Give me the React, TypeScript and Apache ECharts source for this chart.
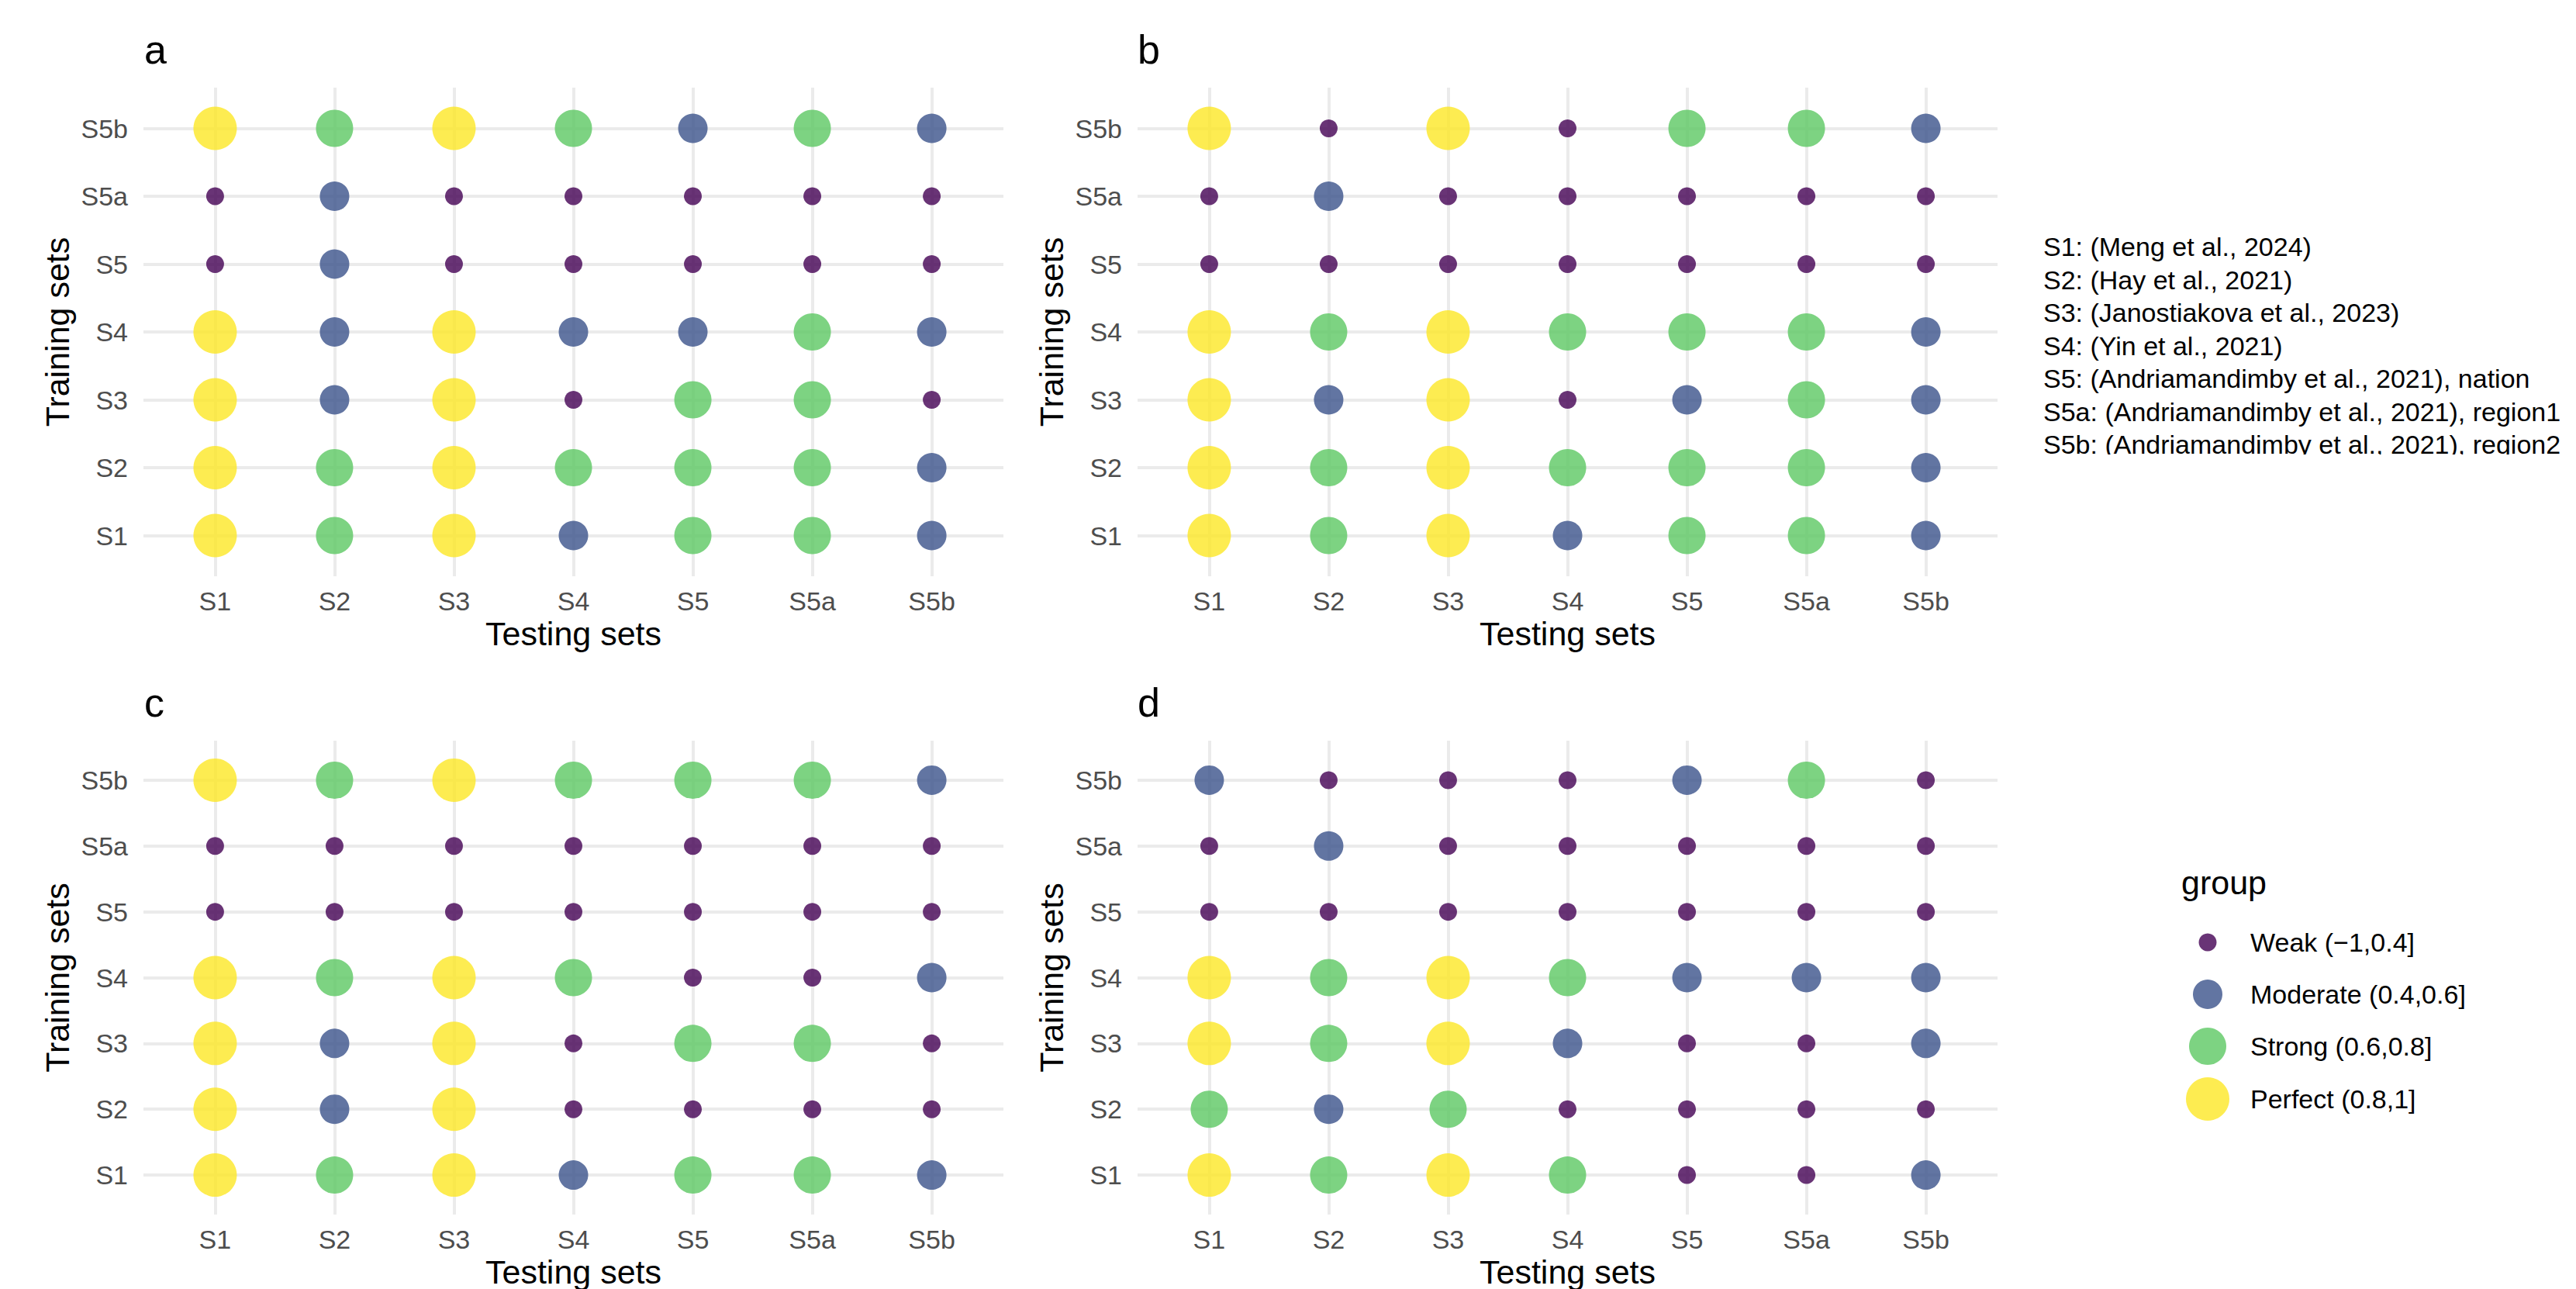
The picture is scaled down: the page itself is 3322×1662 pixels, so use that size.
import React, { useEffect, useRef } from "react";
import * as echarts from "echarts";

// Categories (bottom-to-top for training, left-to-right for testing)
const testingSets = ["S1", "S2", "S3", "S4", "S5", "S5a", "S5b"];
const trainingSets = ["S1", "S2", "S3", "S4", "S5", "S5a", "S5b"];

// Correlation groups
const groupLabels = ["Weak (\u22121,0.4]", "Moderate (0.4,0.6]", "Strong (0.6,0.8]", "Perfect (0.8,1]"];
const groupColors = ["#440154", "#3B528B", "#5DC863", "#FDE725"];
const groupSizes = [23, 38, 48, 56];

// Group index (0 Weak, 1 Moderate, 2 Strong, 3 Perfect); rows = training set S1..S5b, cols = testing set S1..S5b
const panelA = [
  [3, 2, 3, 1, 2, 2, 1],
  [3, 2, 3, 2, 2, 2, 1],
  [3, 1, 3, 0, 2, 2, 0],
  [3, 1, 3, 1, 1, 2, 1],
  [0, 1, 0, 0, 0, 0, 0],
  [0, 1, 0, 0, 0, 0, 0],
  [3, 2, 3, 2, 1, 2, 1],
];
const panelB = [
  [3, 2, 3, 1, 2, 2, 1],
  [3, 2, 3, 2, 2, 2, 1],
  [3, 1, 3, 0, 1, 2, 1],
  [3, 2, 3, 2, 2, 2, 1],
  [0, 0, 0, 0, 0, 0, 0],
  [0, 1, 0, 0, 0, 0, 0],
  [3, 0, 3, 0, 2, 2, 1],
];
const panelC = [
  [3, 2, 3, 1, 2, 2, 1],
  [3, 1, 3, 0, 0, 0, 0],
  [3, 1, 3, 0, 2, 2, 0],
  [3, 2, 3, 2, 0, 0, 1],
  [0, 0, 0, 0, 0, 0, 0],
  [0, 0, 0, 0, 0, 0, 0],
  [3, 2, 3, 2, 2, 2, 1],
];
const panelD = [
  [3, 2, 3, 2, 0, 0, 1],
  [2, 1, 2, 0, 0, 0, 0],
  [3, 2, 3, 1, 0, 0, 1],
  [3, 2, 3, 2, 1, 1, 1],
  [0, 0, 0, 0, 0, 0, 0],
  [0, 1, 0, 0, 0, 0, 0],
  [1, 0, 0, 0, 1, 2, 0],
];
const panels = [panelA, panelB, panelC, panelD];
const panelTags = ["a", "b", "c", "d"];

const studyNotes = [
  "S1: (Meng et al., 2024)",
  "S2: (Hay et al., 2021)",
  "S3: (Janostiakova et al., 2023)",
  "S4: (Yin et al., 2021)",
  "S5: (Andriamandimby et al., 2021), nation",
  "S5a: (Andriamandimby et al., 2021), region1",
  "S5b: (Andriamandimby et al., 2021), region2",
];

const FONT = "'Liberation Sans', Arial, Helvetica, sans-serif";

const gridBoxes = [
  { left: 185, top: 113, width: 1109, height: 630 },
  { left: 1467, top: 113, width: 1109, height: 630 },
  { left: 185, top: 955, width: 1109, height: 630 },
  { left: 1467, top: 955, width: 1109, height: 630 },
];
const tagPos = [
  { x: 186, y: 64 },
  { x: 1467, y: 64 },
  { x: 186, y: 906 },
  { x: 1467, y: 906 },
];

export default function App() {
  const ref = useRef<HTMLDivElement>(null);

  useEffect(() => {
    if (!ref.current) return;
    const chart = echarts.init(ref.current, undefined, { renderer: "svg" });
    const ticks = testingSets.map((_, i) => i);

    const xAxis = gridBoxes.map((_, i) => ({
      type: "value",
      gridIndex: i,
      min: -0.6,
      max: 6.6,
      axisLine: { show: false },
      axisTick: { show: false, customValues: ticks },
      axisLabel: {
        customValues: ticks,
        formatter: (v: number) => testingSets[Math.round(v)] ?? "",
        fontSize: 34,
        color: "#4d4d4d",
        margin: 15,
        fontFamily: FONT,
      },
      splitLine: { show: true, lineStyle: { color: "#ebebeb", width: 4 } },
      name: "Testing sets",
      nameLocation: "middle",
      nameGap: 52,
      nameTextStyle: { fontSize: 43, color: "#000", fontFamily: FONT },
    }));
    const yAxis = gridBoxes.map((_, i) => ({
      type: "value",
      gridIndex: i,
      min: -0.6,
      max: 6.6,
      axisLine: { show: false },
      axisTick: { show: false, customValues: ticks },
      axisLabel: {
        customValues: ticks,
        formatter: (v: number) => trainingSets[Math.round(v)] ?? "",
        fontSize: 34,
        color: "#4d4d4d",
        margin: 20,
        fontFamily: FONT,
      },
      splitLine: { show: true, lineStyle: { color: "#ebebeb", width: 4 } },
      name: "Training sets",
      nameLocation: "middle",
      nameRotate: 90,
      nameGap: 90,
      nameTextStyle: { fontSize: 43, color: "#000", fontFamily: FONT },
    }));

    const series = panels.map((m, p) => {
      const data: number[][] = [];
      m.forEach((row, r) => row.forEach((g, c) => data.push([c, r, g])));
      return {
        type: "scatter",
        xAxisIndex: p,
        yAxisIndex: p,
        data,
        silent: true,
        symbol: "circle",
        symbolSize: (d: number[]) => groupSizes[d[2]],
        itemStyle: {
          color: (params: any) => groupColors[params.data[2]],
          opacity: 0.8,
        },
      };
    });

    const graphic: any[] = [];
    tagPos.forEach((t, i) =>
      graphic.push({
        type: "text",
        x: t.x,
        y: t.y,
        style: { text: panelTags[i], fontSize: 52, fill: "#000", fontFamily: FONT, verticalAlign: "middle", align: "left" },
      })
    );
    studyNotes.forEach((s, i) =>
      graphic.push({
        type: "text",
        x: 2635,
        y: 318 + i * 42.5,
        style: { text: s, fontSize: 34, fill: "#000", fontFamily: FONT, verticalAlign: "middle", align: "left" },
      })
    );
    // the notes block is clipped at its bottom in the original
    graphic.push({ type: "rect", shape: { x: 2600, y: 586, width: 722, height: 60 }, style: { fill: "#fff" }, z: 100 });

    graphic.push({
      type: "text",
      x: 2813,
      y: 1138,
      style: { text: "group", fontSize: 43, fill: "#000", fontFamily: FONT, verticalAlign: "middle", align: "left" },
    });
    const legendY = [1215, 1282, 1349, 1417];
    groupLabels.forEach((lab, i) => {
      graphic.push({
        type: "circle",
        shape: { cx: 2847, cy: legendY[i], r: groupSizes[i] / 2 },
        style: { fill: groupColors[i], opacity: 0.8 },
      });
      graphic.push({
        type: "text",
        x: 2902,
        y: legendY[i],
        style: { text: lab, fontSize: 34, fill: "#000", fontFamily: FONT, verticalAlign: "middle", align: "left" },
      });
    });

    chart.setOption({
      animation: false,
      backgroundColor: "#fff",
      textStyle: { fontFamily: FONT },
      grid: gridBoxes.map((g) => ({ ...g, containLabel: false })),
      xAxis,
      yAxis,
      series,
      graphic,
    } as any);

    return () => chart.dispose();
  }, []);

  return (
    <div
      ref={ref}
      style={{ position: "fixed", left: 0, top: 0, width: 3322, height: 1662, background: "#fff" }}
    />
  );
}
